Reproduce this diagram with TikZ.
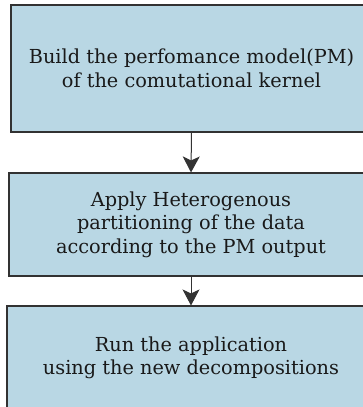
\documentclass[tikz,border=0pt]{standalone}
\usepackage{fontspec}
\setmainfont{DejaVu Serif}
\usetikzlibrary{arrows.meta}
\definecolor{boxfill}{RGB}{185,215,228}
\definecolor{boxline}{RGB}{50,50,50}
\tikzset{
  stepbox/.style={draw=boxline, line width=1.1pt, fill=boxfill, align=center,
    inner sep=0pt, font=\fontsize{19.3pt}{23.5pt}\selectfont, text=black!90},
  flow/.style={draw=black!80, line width=1pt,
    -{Stealth[length=16pt, width=17pt, inset=4pt]}}
}
\begin{document}
\begin{tikzpicture}[x=1pt, y=1pt]
  \useasboundingbox (0,0) rectangle (363,-407);
  \node[stepbox, minimum width=361pt, minimum height=127pt] (build) at (191.5,-68.5)
    {Build the perfomance model(PM)\\of the comutational kernel};
  \node[stepbox, minimum width=364pt, minimum height=103pt] (part) at (191,-224.5)
    {Apply Heterogenous\\partitioning of the data\\according to the PM output};
  \node[stepbox, minimum width=368pt, minimum height=104pt] (run) at (191,-358)
    {Run the application\\using the new decompositions};
  \draw[flow] (build.south) -- (part.north);
  \draw[flow] (part.south) -- (run.north);
\end{tikzpicture}
\end{document}
